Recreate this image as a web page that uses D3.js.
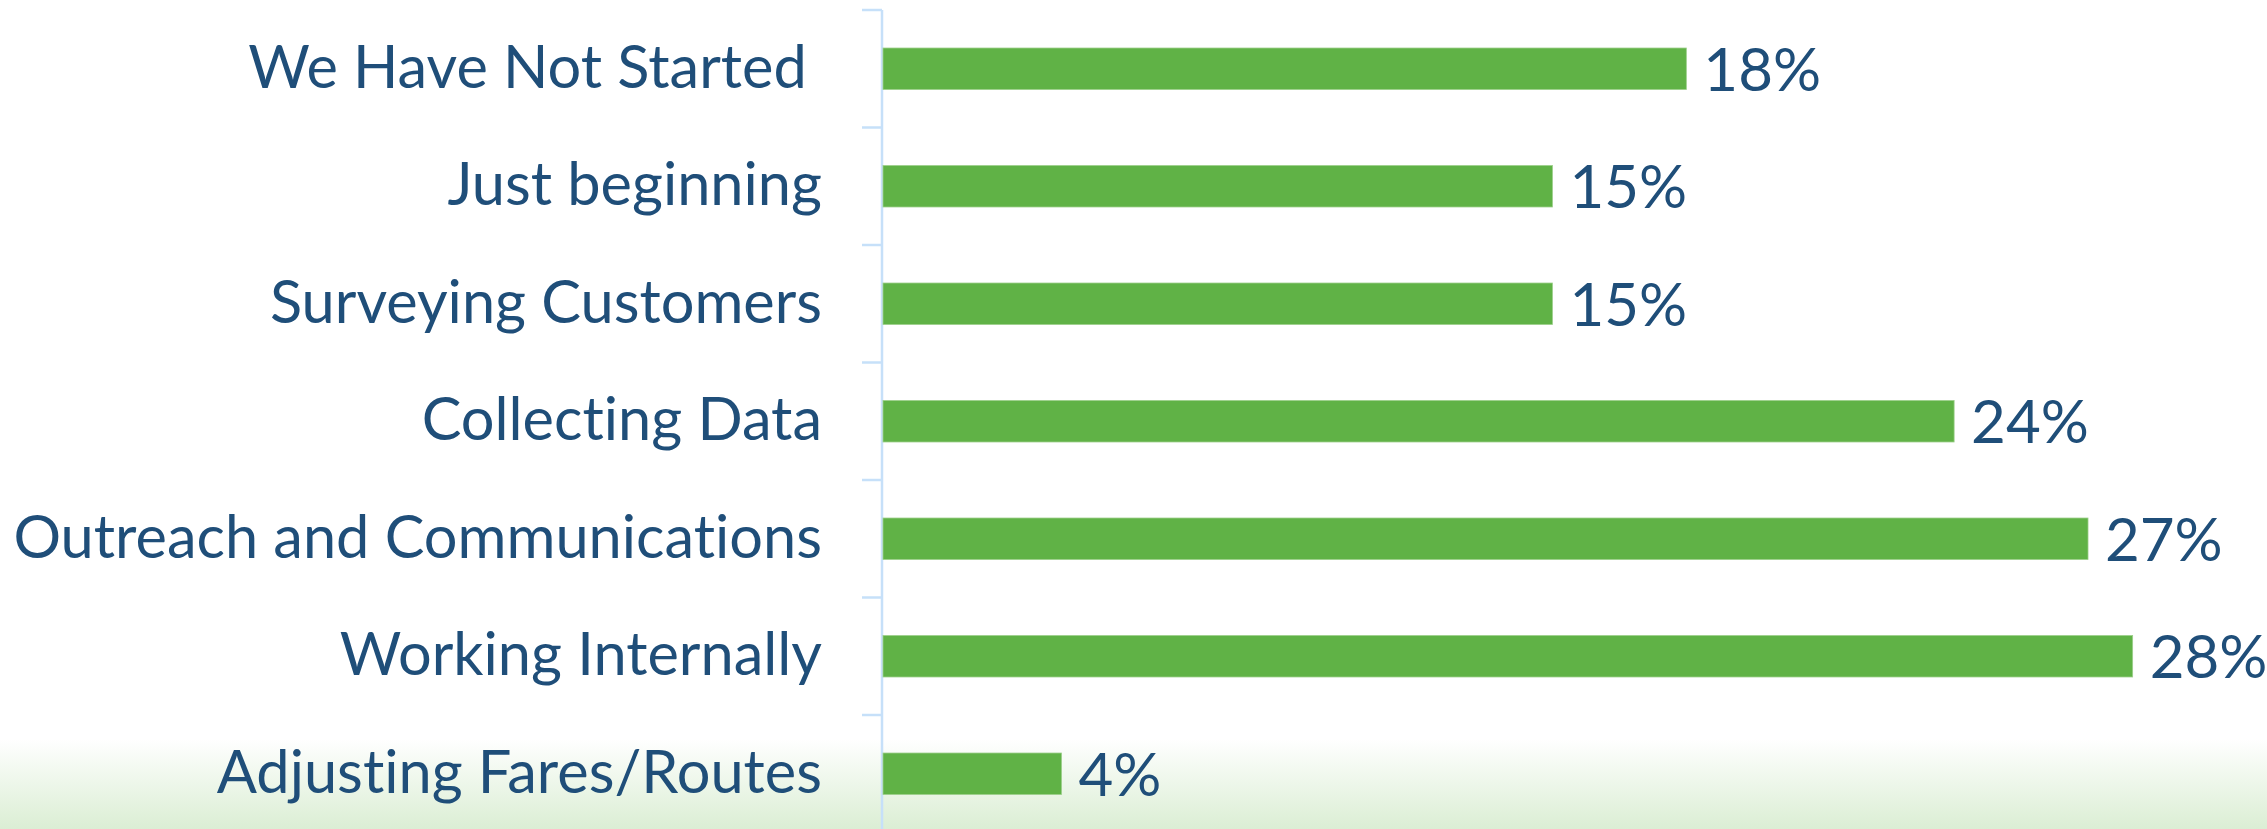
<!DOCTYPE html>
<html>
<head>
<meta charset="utf-8">
<script src="https://cdn.jsdelivr.net/npm/d3@7"></script>
<style>
  body { margin: 0; background: #ffffff; }
  #chart { width: 2267px; height: 829px; }
  .label { font-family: Lato, "Open Sans", sans-serif; fill: #1f4e79; white-space: pre; font-variant-ligatures: none; }
</style>
</head>
<body>
<div id="chart"></div>
<script>
/* DATA */
var categories = ["We Have Not Started ", "Just beginning", "Surveying Customers", "Collecting Data",
                  "Outreach and Communications", "Working Internally", "Adjusting Fares/Routes"];
var values = [18, 15, 15, 24, 27, 28, 4];

/* SVG CANVAS */
var width = 2267;
var height = 829;
var svg = d3.select("#chart")
    .append("svg")
    .attr("width", width)
    .attr("height", height);

/* soft green fade at the bottom */
var grad = svg.append("defs").append("linearGradient")
    .attr("id", "fade")
    .attr("x1", 0).attr("y1", 0).attr("x2", 0).attr("y2", 1);
grad.append("stop").attr("offset", "0%").attr("stop-color", "#ffffff");
grad.append("stop").attr("offset", "30%").attr("stop-color", "#ffffff");
grad.append("stop").attr("offset", "100%").attr("stop-color", "#dbeed4");

svg.append("rect")
    .attr("x", 0).attr("y", 700)
    .attr("width", width).attr("height", height - 700)
    .attr("fill", "url(#fade)");

/* SCALES */
var x0 = 883;
var x = d3.scaleLinear()
    .domain([0, 30])
    .range([x0, x0 + 30 * 44.63]);

var y = d3.scaleBand()
    .domain(categories)
    .range([10, 10 + 7 * 117.5])
    .paddingInner(0.647)
    .paddingOuter(0.3235);

var step = y.step();
var pad = (step - y.bandwidth()) / 2;

/* AXIS LINE AND TICKS (ticks sit between the bands) */
var axisColor = "#c6e0f9";
svg.append("line")
    .attr("x1", x0 - 1).attr("x2", x0 - 1)
    .attr("y1", y.range()[0]).attr("y2", y.range()[1])
    .attr("stroke", axisColor)
    .attr("stroke-width", 2.5);

var tickPos = categories.map(function(d) { return y(d) - pad; });
tickPos.push(y.range()[1]);
svg.selectAll(".tick")
    .data(tickPos)
    .enter()
    .append("line")
        .attr("class", "tick")
        .attr("x1", x0 - 21).attr("x2", x0 - 1)
        .attr("y1", function(d) { return d; })
        .attr("y2", function(d) { return d; })
        .attr("stroke", axisColor)
        .attr("stroke-width", 2.5);

/* BARS */
svg.selectAll(".bar")
    .data(values)
    .enter()
    .append("rect")
        .attr("class", "bar")
        .attr("x", x(0))
        .attr("y", function(d, i) { return y(categories[i]); })
        .attr("width", function(d) { return x(d) - x(0); })
        .attr("height", y.bandwidth())
        .attr("fill", "#60b246")
        .attr("stroke", "#9ccf8a")
        .attr("stroke-width", 0.8);

/* CATEGORY LABELS */
svg.selectAll(".cat")
    .data(categories)
    .enter()
    .append("text")
        .attr("class", "label cat")
        .attr("x", 822)
        .attr("y", function(d) { return y(d) + y.bandwidth() / 2 + 19; })
        .attr("text-anchor", "end")
        .style("font-size", "59.5px")
        .text(function(d) { return d; });

/* VALUE LABELS */
svg.selectAll(".val")
    .data(values)
    .enter()
    .append("text")
        .attr("class", "label val")
        .attr("x", function(d) { return x(d) + 17; })
        .attr("y", function(d, i) { return y(categories[i]) + y.bandwidth() / 2 + 22; })
        .style("font-size", "60px")
        .text(function(d) { return d + "%"; });
</script>
</body>
</html>
